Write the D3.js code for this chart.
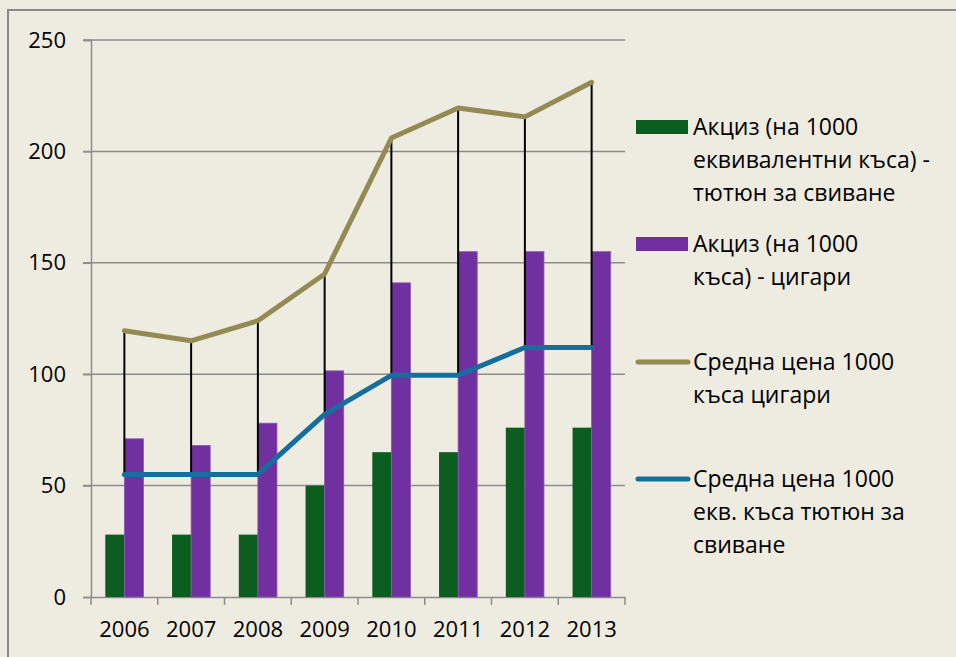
<!DOCTYPE html>
<html>
<head>
<meta charset="utf-8">
<script src="https://cdn.jsdelivr.net/npm/d3@7"></script>
<style>
  html, body { margin: 0; padding: 0; background: #eeebe1; }
  svg { display: block; font-family: "Open Sans", sans-serif; }
</style>
</head>
<body>
<div id="chart"></div>
<script>
// Данни
const years = ["2006", "2007", "2008", "2009", "2010", "2011", "2012", "2013"];
const akcizTyutyun = [28, 28, 28, 50, 65, 65, 76, 76];
const akcizCigari = [71, 68, 78, 101.5, 141, 155, 155, 155];
const cenaCigari = [119.5, 115, 124, 145, 206, 219.5, 215.5, 231];
const cenaTyutyun = [55, 55, 55, 82, 99.5, 99.5, 112, 112];
const yTicks = [0, 50, 100, 150, 200, 250];

const legendItems = [
    { type: "rect", color: "#0b5e20", lines: ["Акциз (на 1000", "еквивалентни къса) -", "тютюн за свиване"], y: 127 },
    { type: "rect", color: "#7030a0", lines: ["Акциз (на 1000", "къса) - цигари"], y: 244 },
    { type: "line", color: "#948a54", lines: ["Средна цена 1000", "къса цигари"], y: 362 },
    { type: "line", color: "#166e9e", lines: ["Средна цена 1000", "екв. къса тютюн за", "свиване"], y: 479 }
];

const W = 956, H = 657;
const plot = { left: 91, right: 625, top: 40, bottom: 597 };
const gridColor = "#8c8c8c";

const svg = d3.select("#chart").append("svg").attr("width", W).attr("height", H);

svg.append("rect").attr("x", 8).attr("y", 10).attr("width", W).attr("height", H)
    .attr("fill", "#eeebe1").attr("stroke", "#8a8a8a").attr("stroke-width", 2);

const x = d3.scaleBand().domain(years).range([plot.left, plot.right]).padding(0);
const groupW = x.bandwidth() / 1.75;
const xInner = d3.scaleBand().domain(["t", "c"]).range([0, groupW]).padding(0);
const y = d3.scaleLinear().domain([0, 250]).range([plot.bottom, plot.top]);

// мрежа
svg.append("g").selectAll("line").data(yTicks.filter(d => d > 0)).enter().append("line")
    .attr("x1", plot.left - 8).attr("x2", plot.right)
    .attr("y1", d => y(d)).attr("y2", d => y(d))
    .attr("stroke", gridColor).attr("stroke-width", 1.5);

// оси
const yAxis = svg.append("g").attr("transform", `translate(${plot.left},0)`)
    .call(d3.axisLeft(y).tickValues(yTicks).tickSize(8).tickPadding(17));
yAxis.select(".domain").attr("stroke", gridColor).attr("stroke-width", 1.5);
yAxis.selectAll(".tick line").attr("stroke", gridColor).attr("stroke-width", 1.5);
yAxis.selectAll("text").attr("font-size", "22px").attr("fill", "#000")
    .attr("font-family", "Open Sans, sans-serif");

const xAxis = svg.append("g").attr("transform", `translate(0,${plot.bottom})`)
    .call(d3.axisBottom(x).tickSize(0).tickPadding(24));
xAxis.select(".domain").attr("stroke", gridColor).attr("stroke-width", 1.5);
xAxis.selectAll("text").attr("font-size", "22px").attr("fill", "#000")
    .attr("font-family", "Open Sans, sans-serif");

const boundaries = years.map(d => x(d)).concat([plot.right]);
svg.append("g").selectAll("line").data(boundaries).enter().append("line")
    .attr("x1", d => d).attr("x2", d => d)
    .attr("y1", plot.bottom).attr("y2", plot.bottom + 8)
    .attr("stroke", gridColor).attr("stroke-width", 1.5);

// колони
const cx = d => x(d) + x.bandwidth() / 2;
const gx = d => cx(d) - groupW / 2;

svg.append("g").selectAll("rect").data(years).enter().append("rect")
    .attr("x", d => gx(d) + xInner("t")).attr("width", xInner.bandwidth())
    .attr("y", (d, i) => y(akcizTyutyun[i]))
    .attr("height", (d, i) => y(0) - y(akcizTyutyun[i]))
    .attr("fill", "#0b5e20");

svg.append("g").selectAll("rect").data(years).enter().append("rect")
    .attr("x", d => gx(d) + xInner("c")).attr("width", xInner.bandwidth())
    .attr("y", (d, i) => y(akcizCigari[i]))
    .attr("height", (d, i) => y(0) - y(akcizCigari[i]))
    .attr("fill", "#7030a0").attr("stroke", "#8a55b5").attr("stroke-width", 0.8);

// линии високо-ниско
svg.append("g").selectAll("line").data(years).enter().append("line")
    .attr("x1", d => cx(d)).attr("x2", d => cx(d))
    .attr("y1", (d, i) => y(cenaTyutyun[i])).attr("y2", (d, i) => y(cenaCigari[i]))
    .attr("stroke", "#000").attr("stroke-width", 2);

const line = d3.line().x(d => cx(d[0])).y(d => y(d[1]));
[[cenaCigari, "#948a54"], [cenaTyutyun, "#166e9e"]].forEach(([vals, col]) => {
    svg.append("path").datum(years.map((d, i) => [d, vals[i]]))
        .attr("d", line).attr("fill", "none").attr("stroke", col)
        .attr("stroke-width", 5).attr("stroke-linejoin", "round").attr("stroke-linecap", "round");
});

// легенда
const lg = svg.append("g");
legendItems.forEach(it => {
    if (it.type === "rect") {
        lg.append("rect").attr("x", 636).attr("y", it.y - 7).attr("width", 52).attr("height", 14)
            .attr("fill", it.color);
    } else {
        lg.append("line").attr("x1", 638).attr("x2", 688).attr("y1", it.y).attr("y2", it.y)
            .attr("stroke", it.color).attr("stroke-width", 5).attr("stroke-linecap", "round");
    }
    it.lines.forEach((t, j) => {
        lg.append("text").attr("x", 693).attr("y", it.y + j * 33).attr("dy", "0.35em")
            .attr("font-size", "23px").attr("fill", "#000").text(t);
    });
});
</script>
</body>
</html>
